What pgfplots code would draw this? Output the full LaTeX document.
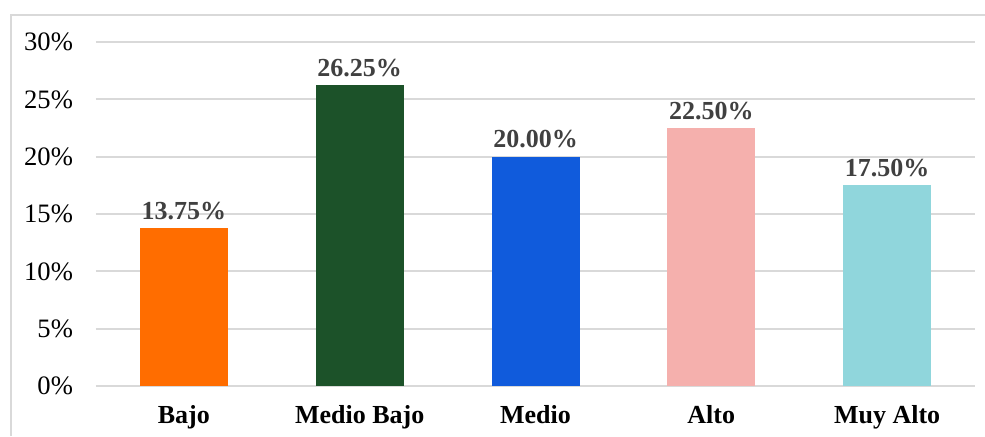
\documentclass[border=0pt]{standalone}
\usepackage{pgfplots}
\pgfplotsset{compat=1.18}
\usepackage{fontspec}
\setmainfont{Liberation Serif}
\definecolor{gridc}{HTML}{D9D9D9}
\definecolor{labc}{HTML}{404040}
\definecolor{c1}{HTML}{FF6D00}
\definecolor{c2}{HTML}{1C5229}
\definecolor{c3}{HTML}{105BDC}
\definecolor{c4}{HTML}{F5B0AD}
\definecolor{c5}{HTML}{90D6DC}
\begin{document}
\begin{tikzpicture}[x=1pt,y=1pt]
\path[use as bounding box] (0,0) rectangle (492.5,218);
\draw[gridc, line width=1pt] (5.5,0) -- (5.5,210.5) -- (492.5,210.5);
\begin{axis}[
  at={(48pt,25pt)}, anchor=south west,
  scale only axis, width=439.5pt, height=172pt,
  xmin=-0.5, xmax=4.5, ymin=0, ymax=30,
  axis line style={draw=none},
  major tick length=0pt,
  xtick={0,1,2,3,4},
  xticklabels={Bajo,Medio Bajo,Medio,Alto,Muy Alto},
  x tick label style={font=\fontsize{13}{15}\selectfont\bfseries, yshift=-6pt},
  ytick={0,5,10,15,20,25,30},
  yticklabel={\pgfmathprintnumber{\tick}\%},
  y tick label style={font=\fontsize{13.3}{15}\selectfont, xshift=-8pt},
  /pgf/number format/assume math mode=true,
  ymajorgrids, grid style={gridc, line width=1pt},
  ybar, bar width=44pt, bar shift=0pt,
  nodes near coords={\pgfmathprintnumber[fixed,fixed zerofill,precision=2]{\pgfplotspointmeta}\%},
  nodes near coords style={font=\fontsize{13}{15}\selectfont\bfseries, text=labc, inner sep=4pt},
  clip=false,
]
\addplot[fill=c1, draw=none] coordinates {(0,13.75)};
\addplot[fill=c2, draw=none] coordinates {(1,26.25)};
\addplot[fill=c3, draw=none] coordinates {(2,20.00)};
\addplot[fill=c4, draw=none] coordinates {(3,22.50)};
\addplot[fill=c5, draw=none] coordinates {(4,17.50)};
\end{axis}
\end{tikzpicture}
\end{document}
